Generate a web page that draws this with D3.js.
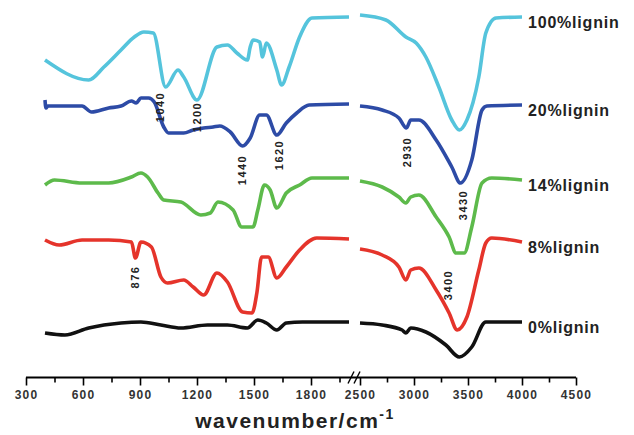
<!DOCTYPE html>
<html>
<head>
<meta charset="utf-8">
<script src="https://cdn.jsdelivr.net/npm/d3@7"></script>
<style>
  body { margin: 0; background: #fff; }
  svg text { font-family: "Liberation Sans", Arial, sans-serif; font-weight: bold; }
</style>
</head>
<body>
<div id="ftir-chart"></div>
<script>
// FTIR spectra, [wavenumber (cm-1), transmittance (a.u., offset per curve)]
var lignin100 = [[400,300],[630,280],[710,293],[800,310],[870,323],[920,328],[970,327],[1035,273],[1100,290],[1130,283],[1200,260],[1305,313],[1360,315],[1410,307],[1465,300],[1480,313],[1495,320],[1530,318],[1545,303],[1565,317],[1620,290],[1645,275],[1685,293],[1740,323],[1805,342],[2000,343],
                 [2500,345],[2740,340],[2925,323],[3020,317],[3110,303],[3230,273],[3350,240],[3420,230],[3490,240],[3600,283],[3665,327],[3760,342],[4000,343]];
var lignin20 = [[400,260],[405,252],[415,254],[435,254],[595,254],[645,248],[735,252],[800,254],[855,259],[880,257],[905,262],[945,262],[975,258],[1025,233],[1050,227],[1130,227],[1180,230],[1235,232],[1285,233],[1320,234],[1375,228],[1440,214],[1480,222],[1530,245],[1565,245],[1620,225],[1670,237],[1725,247],[1790,255],[2000,256],
                [2500,254],[2705,250],[2860,242],[2930,232],[2970,240],[3045,240],[3205,220],[3350,193],[3430,177],[3535,200],[3630,250],[3675,254],[4000,255]];
var lignin14 = [[400,175],[450,180],[595,177],[735,177],[855,183],[905,187],[940,183],[995,167],[1025,160],[1115,158],[1220,145],[1270,147],[1310,158],[1390,150],[1435,133],[1495,133],[1520,150],[1555,175],[1585,170],[1620,152],[1670,167],[1740,175],[1805,182],[2000,182],
                [2500,179],[2705,173],[2860,163],[2925,157],[2970,163],[3045,165],[3205,143],[3325,123],[3390,107],[3465,107],[3535,133],[3630,177],[3720,182],[4000,180]];
var lignin8 = [[400,120],[475,115],[595,120],[735,120],[855,118],[876,102],[905,118],[960,113],[1010,83],[1045,77],[1130,80],[1180,73],[1235,65],[1305,87],[1360,78],[1440,48],[1490,47],[1515,67],[1540,103],[1575,103],[1620,82],[1670,93],[1740,110],[1830,122],[2000,121],
               [2500,111],[2705,105],[2860,93],[2925,80],[2970,90],[3045,92],[3205,70],[3325,47],[3400,30],[3490,43],[3600,90],[3665,117],[3720,122],[4000,118]];
var lignin0 = [[400,27],[505,25],[630,32],[800,37],[905,38],[1010,35],[1115,32],[1255,35],[1360,35],[1465,32],[1520,40],[1565,37],[1620,30],[1670,37],[1755,38],[2000,38],
               [2500,37],[2705,35],[2890,30],[2925,27],[2970,32],[3110,28],[3295,15],[3420,3],[3535,13],[3665,38],[4000,38]];

var seriesNames = ["100%lignin", "20%lignin", "14%lignin", "8%lignin", "0%lignin"];
var seriesData = [lignin100, lignin20, lignin14, lignin8, lignin0];
var seriesColors = ["#55c4dc", "#2d4ba6", "#5dba4b", "#e5342b", "#111111"];

// peak labels: text, wavenumber where drawn, level
var peakText = ["1040", "1200", "1440", "1620", "876", "2930", "3430", "3400"];
var peakAt = [1005, 1200, 1440, 1630, 876, 2935, 3455, 3320];
var peakLevel = [253, 243, 190, 205, 83, 208, 155, 75];

var leftTicks = [300, 600, 900, 1200, 1500, 1800];
var leftMinor = [450, 750, 1050, 1350, 1650, 1950];
var rightTicks = [2500, 3000, 3500, 4000, 4500];
var rightMinor = [2750, 3250, 3750, 4250];

var width = 634, height = 435;
var svg = d3.select("#ftir-chart").append("svg")
    .attr("width", width)
    .attr("height", height);

// broken x axis: two linear scales
var xLeft = d3.scaleLinear().domain([300, 2000]).range([26, 349]);
var xRight = d3.scaleLinear().domain([2500, 4500]).range([360, 576]);
var y = d3.scaleLinear().domain([0, 360]).range([360, 0]);
var axisY = 377.5;

function xPos(wn) {
    return wn < 2250 ? xLeft(wn) : xRight(wn);
}

var line = d3.line()
    .x(function(d) { return xPos(d[0]); })
    .y(function(d) { return y(d[1]); })
    .curve(d3.curveMonotoneX);

seriesData.forEach(function(data, i) {
    var parts = [data.filter(function(d) { return d[0] < 2250; }),
                 data.filter(function(d) { return d[0] >= 2250; })];
    parts.forEach(function(part) {
        svg.append("path")
            .datum(part)
            .attr("d", line)
            .attr("fill", "none")
            .attr("stroke", seriesColors[i])
            .attr("stroke-width", 3.6)
            .attr("stroke-linejoin", "round");
    });
    var last = data[data.length - 1];
    svg.append("text")
        .attr("x", xRight(last[0]) + 6)
        .attr("y", y(last[1]) + 11)
        .attr("font-size", 16)
        .attr("letter-spacing", 0.8)
        .attr("fill", "#222")
        .text(seriesNames[i]);
});

// peak annotations, vertical
peakText.forEach(function(t, i) {
    svg.append("text")
        .attr("transform", "translate(" + xPos(peakAt[i]) + "," + y(peakLevel[i]) + ") rotate(-90)")
        .attr("text-anchor", "middle")
        .attr("dy", "0.35em")
        .attr("font-size", 11)
        .attr("letter-spacing", 1.5)
        .attr("fill", "#222")
        .text(t);
});

// axes
var axisG = svg.append("g").attr("transform", "translate(0," + axisY + ")");

function drawAxis(scale, major, minor) {
    var g = axisG.append("g")
        .call(d3.axisBottom(scale).tickValues(major).tickSize(8).tickSizeOuter(0)
            .tickPadding(5).tickFormat(d3.format("d")));
    g.select(".domain").remove();
    g.selectAll("text")
        .attr("font-size", 12)
        .attr("letter-spacing", 1.2)
        .attr("fill", "#333");
    g.selectAll("line").attr("stroke-width", 1.6);
    var m = axisG.append("g")
        .call(d3.axisBottom(scale).tickValues(minor).tickSize(5).tickSizeOuter(0).tickFormat(""));
    m.select(".domain").remove();
    m.selectAll("line").attr("stroke-width", 1.6);
}
drawAxis(xLeft, leftTicks, leftMinor);
drawAxis(xRight, rightTicks, rightMinor);

axisG.append("line")
    .attr("x1", xLeft(300)).attr("x2", xRight(4500))
    .attr("y1", 0).attr("y2", 0)
    .attr("stroke", "#000")
    .attr("stroke-width", 1.8);

// break marks
[351, 357].forEach(function(bx) {
    axisG.append("line")
        .attr("x1", bx - 3).attr("y1", 6)
        .attr("x2", bx + 3).attr("y2", -6)
        .attr("stroke", "#000")
        .attr("stroke-width", 1.4);
});

var title = svg.append("text")
    .attr("x", 295)
    .attr("y", 428)
    .attr("text-anchor", "middle")
    .attr("font-size", 21)
    .attr("letter-spacing", 1.5)
    .attr("fill", "#222");
title.append("tspan").text("wavenumber/cm");
title.append("tspan").attr("dy", -9).attr("font-size", 14).text("-1");
</script>
</body>
</html>
